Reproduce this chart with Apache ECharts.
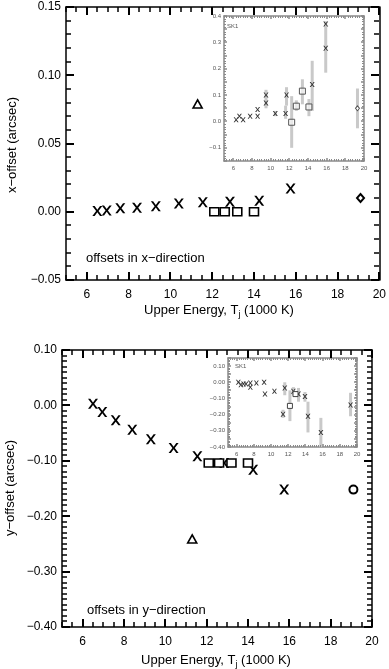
<!DOCTYPE html>
<html>
<head>
<meta charset="utf-8">
<script src="https://cdn.jsdelivr.net/npm/echarts@6/dist/echarts.min.js"></script>
<style>
  html, body { margin: 0; padding: 0; background: #fff; }
  #chart { width: 389px; height: 669px; }
</style>
</head>
<body>
<div id="chart"></div>
<script>
// upper energy T_j (1000 K) of the cross points, shared by both panels
var crossT = [6.5, 6.95, 7.6, 8.4, 9.3, 10.4, 11.55, 12.85, 14.25, 15.75];
var crossX = [0.0005, 0.001, 0.0025, 0.003, 0.004, 0.006, 0.007, 0.0074, 0.008, 0.017];
var crossY = [0.003, -0.012, -0.027, -0.044, -0.061, -0.077, -0.092, -0.104, -0.116, -0.152];
// open squares
var boxT = [12.1, 12.6, 13.2, 14.0];
var boxX = [0.0, 0.0, 0.0, 0.0];
var boxY = [-0.104, -0.104, -0.104, -0.104];
// triangle and diamond
var triT = [11.3], triX = [0.079], triY = [-0.241];
var diaT = [19.1], diaX = [0.010], diaY = [-0.152];

// inset SK1, x-offsets
var skxCrossT = [6.3, 6.65, 7.05, 7.8, 8.6, 8.6, 9.5, 9.5, 10.5, 11.6, 11.7, 14.45, 15.9, 15.9];
var skxCrossV = [0.006, 0.02, 0.006, 0.02, 0.02, 0.045, 0.07, 0.10, 0.03, 0.03, 0.10, 0.14, 0.278, 0.37];
var skxBoxT = [12.25, 12.75, 13.4, 14.1];
var skxBoxV = [-0.003, 0.058, 0.115, 0.055];
var skxDiaT = [19.3], skxDiaV = [0.05];
var skxErrT  = [9.5, 10.5, 11.6, 11.7, 12.25, 12.75, 13.4, 14.1, 14.45, 15.9, 19.3];
var skxErrLo = [0.05, 0.02, 0.01, 0.06, -0.10, 0.04, 0.065, 0.02, 0.04, 0.185, -0.026];
var skxErrHi = [0.12, 0.04, 0.06, 0.13, 0.096, 0.08, 0.16, 0.085, 0.23, 0.38, 0.125];

// inset SK1, y-offsets
var skyCrossT = [6.2, 6.5, 6.8, 7.1, 7.6, 7.6, 8.3, 9.2, 9.3, 10.4, 11.4, 11.6, 12.6, 13.2, 13.95, 14.3, 15.8, 19.25];
var skyCrossV = [0.0, -0.015, -0.01, -0.01, -0.005, -0.03, -0.005, 0.0, -0.073, -0.056, -0.198, -0.035, -0.056, -0.073, -0.088, -0.21, -0.31, -0.14];
var skyBoxT = [12.2, 12.85], skyBoxV = [-0.146, -0.073];
var skyErrT  = [11.4, 11.6, 12.2, 12.6, 13.2, 13.95, 14.3, 15.8, 19.25];
var skyErrLo = [-0.22, -0.08, -0.24, -0.08, -0.12, -0.12, -0.31, -0.40, -0.21];
var skyErrHi = [-0.17, 0.0, -0.05, -0.03, -0.035, -0.06, -0.12, -0.22, -0.065];

// labelled (major) energy ticks
var xMajorTicks = [6, 8, 10, 12, 14, 16, 18, 20];

var FONT = 'Liberation Sans';
var CROSS = 'path://M0,0L2.3,0L5,3.7L7.7,0L10,0L6.2,5L10,10L7.7,10L5,6.3L2.3,10L0,10L3.8,5Z';

function isMult(v, step) {
  var q = v / step;
  return Math.abs(q - Math.round(q)) < 1e-6;
}
function steps(a, b, s) {
  var out = [];
  var n = Math.round((b - a) / s);
  for (var i = 0; i <= n; i++) out.push(Math.round((a + i * s) * 10000) / 10000);
  return out;
}
function fmt(d, step) {
  return function (v) {
    if (step && !isMult(v, step)) return '';
    var s = Math.abs(v).toFixed(d);
    return v < -1e-9 ? '\u2212' + s : s;
  };
}
function pairs(a, b) { return a.map(function (t, i) { return [t, b[i]]; }); }

var grids = [], xAxes = [], yAxes = [], series = [], frames = [];

// four-sided frame; the inward ticks are added after layout
function frame(g, st) {
  var gi = grids.length;
  grids.push({ left: g.left, top: g.top, width: g.width, height: g.height });
  var xi = xAxes.length, yi = yAxes.length;
  ['bottom', 'top'].forEach(function (pos) {
    xAxes.push({
      gridIndex: gi, type: 'value', position: pos, min: g.xmin, max: g.xmax, interval: 1,
      splitLine: { show: false },
      axisLine: { show: true, onZero: false, lineStyle: { color: st.line, width: st.lw } },
      axisTick: { show: false },
      axisLabel: pos === 'bottom'
        ? { show: true, margin: st.xMargin, fontSize: st.fs, color: st.fc, fontFamily: FONT,
            formatter: function (v) { return isMult(v, 2) ? String(v) : ''; } }
        : { show: false }
    });
  });
  ['left', 'right'].forEach(function (pos) {
    yAxes.push({
      gridIndex: gi, type: 'value', position: pos, min: g.ymin, max: g.ymax, interval: g.yInt,
      splitLine: { show: false },
      axisLine: { show: true, onZero: false, lineStyle: { color: st.line, width: st.lw } },
      axisTick: { show: false },
      axisLabel: pos === 'left'
        ? { show: true, margin: st.yMargin, fontSize: st.fs, color: st.fc, fontFamily: FONT, formatter: fmt(g.yDec, g.yLabStep) }
        : { show: false }
    });
  });
  var ax = { x: xi, y: yi };
  frames.push({ g: g, st: st, ax: ax });
  return ax;
}

var mainStyle = { line: '#000', lw: 1.5, tw: 2, mw: 1.5, major: 8, minor: 5, fs: 12, fc: '#000', xMargin: 9, yMargin: 5 };
var insetStyle = { line: '#8a8a8a', lw: 1.5, tw: 1.5, mw: 1, major: 3, minor: 2, fs: 6, fc: '#555', xMargin: 4, yMargin: 3 };

var topAx = frame({
  left: 66, top: 7, width: 314, height: 273, xmin: 5, xmax: 20, xMinorStep: 0.5,
  ymin: -0.05, ymax: 0.15, yInt: 0.05, yMinorStep: 0.01, yDec: 2
}, mainStyle);
var topIn = frame({
  left: 224, top: 16, width: 140, height: 145, xmin: 5, xmax: 20, xMinorStep: 0.25,
  ymin: -0.15, ymax: 0.4, yInt: 0.05, yMinorStep: 0.01, yDec: 1, yLabStep: 0.1
}, insetStyle);
var botAx = frame({
  left: 62, top: 350, width: 310, height: 277, xmin: 5, xmax: 20, xMinorStep: 0.5,
  ymin: -0.4, ymax: 0.1, yInt: 0.1, yMinorStep: 0.01, yDec: 2
}, mainStyle);
var botIn = frame({
  left: 228, top: 358, width: 129, height: 89, xmin: 5, xmax: 20, xMinorStep: 0.25,
  ymin: -0.4, ymax: 0.15, yInt: 0.05, yMinorStep: 0.01, yDec: 2, yLabStep: 0.1
}, insetStyle);

function scatter(ax, data, symbol, size, color, fill, bw) {
  series.push({
    type: 'scatter', xAxisIndex: ax.x, yAxisIndex: ax.y, data: data,
    symbol: symbol, symbolSize: size, z: 5, silent: true,
    itemStyle: { color: fill, borderColor: color, borderWidth: bw, opacity: 1 }
  });
}
function errBars(ax, t, lo, hi) {
  series.push({
    type: 'custom', xAxisIndex: ax.x, yAxisIndex: ax.y, z: 3, silent: true,
    data: t.map(function (v, i) { return [v, lo[i], hi[i]]; }),
    renderItem: function (params, api) {
      var p1 = api.coord([api.value(0), api.value(1)]);
      var p2 = api.coord([api.value(0), api.value(2)]);
      return { type: 'line', shape: { x1: p1[0], y1: p1[1], x2: p2[0], y2: p2[1] },
               style: { stroke: '#c9c9c9', lineWidth: 3 } };
    }
  });
}

// top panel
scatter(topAx, pairs(crossT, crossX), CROSS, [10, 10], '#000', '#000', 0);
scatter(topAx, pairs(boxT, boxX), 'rect', [9, 8], '#000', '#fff', 1.5);
scatter(topAx, pairs(triT, triX), 'triangle', [9, 8], '#000', '#fff', 1.6);
scatter(topAx, pairs(diaT, diaX), 'diamond', [7, 8], '#000', '#fff', 2);
errBars(topIn, skxErrT, skxErrLo, skxErrHi);
scatter(topIn, pairs(skxCrossT, skxCrossV), CROSS, [5, 5], '#333', '#333', 0);
scatter(topIn, pairs(skxBoxT, skxBoxV), 'rect', [6, 6], '#555', 'rgba(255,255,255,0.6)', 1);
scatter(topIn, pairs(skxDiaT, skxDiaV), 'diamond', [4, 5], '#555', '#fff', 1);

// bottom panel
scatter(botAx, pairs(crossT, crossY), CROSS, [10, 10], '#000', '#000', 0);
scatter(botAx, pairs(boxT, boxY), 'rect', [9, 8], '#000', '#fff', 1.5);
scatter(botAx, pairs(triT, triY), 'triangle', [9, 8], '#000', '#fff', 1.6);
scatter(botAx, pairs(diaT, diaY), 'circle', [8, 8], '#000', '#fff', 2);
errBars(botIn, skyErrT, skyErrLo, skyErrHi);
scatter(botIn, pairs(skyCrossT, skyCrossV), CROSS, [5, 5], '#333', '#333', 0);
scatter(botIn, pairs(skyBoxT, skyBoxV), 'rect', [5, 5], '#444', '#fff', 1);

function label(x, y, text, size, opt) {
  return Object.assign({
    type: 'text', x: x, y: y, silent: true,
    style: Object.assign({ text: text, fontFamily: FONT, fontSize: size, fill: '#000',
                           textAlign: 'left', textVerticalAlign: 'middle' }, (opt && opt.style) || {})
  }, opt && opt.rotation ? { rotation: opt.rotation } : {});
}
var richTitle = {
  a: { fontFamily: FONT, fontSize: 13, lineHeight: 18, fill: '#000' },
  s: { fontFamily: FONT, fontSize: 9, lineHeight: 9, verticalAlign: 'bottom', fill: '#000' }
};
function xTitle(x, y) {
  return { type: 'text', x: x, y: y, silent: true,
    style: { text: '{a|Upper Energy, T}{s|j}{a| (1000 K)}', rich: richTitle,
             textAlign: 'center', textVerticalAlign: 'middle' } };
}
var texts = [
  label(12, 145, 'x\u2212offset (arcsec)', 13, { rotation: Math.PI / 2, style: { textAlign: 'center' } }),
  label(10, 488, 'y\u2212offset (arcsec)', 13, { rotation: Math.PI / 2, style: { textAlign: 'center' } }),
  xTitle(219, 310),
  xTitle(216, 660),
  label(86, 258, 'offsets in x\u2212direction', 13),
  label(87, 610, 'offsets in y\u2212direction', 13),
  label(227, 26, 'SK1', 6, { style: { fill: '#555' } }),
  label(235, 366, 'SK1', 6, { style: { fill: '#555' } })
];

var chart = echarts.init(document.getElementById('chart'));
chart.setOption({
  animation: false,
  grid: grids,
  xAxis: xAxes,
  yAxis: yAxes,
  series: series
});

// inward ticks on all four sides, placed through each grid's own scales
function snap(v, w) {
  return Math.round(v) + (Math.round(w) % 2 === 1 ? 0.5 : 0);
}
var tickLines = [];
frames.forEach(function (f) {
  var g = f.g, st = f.st;
  var finder = { xAxisIndex: f.ax.x, yAxisIndex: f.ax.y };
  function add(p, dx, dy, major) {
    if (!p || isNaN(p[0]) || isNaN(p[1])) return;
    var w = major ? st.tw : st.mw;
    var x = dx === 0 ? snap(p[0], w) : Math.round(p[0]);
    var y = dy === 0 ? snap(p[1], w) : Math.round(p[1]);
    tickLines.push({ type: 'line', silent: true, z: 50,
      shape: { x1: x, y1: y, x2: x + dx, y2: y + dy },
      style: { stroke: st.line, lineWidth: w } });
  }
  steps(g.xmin, g.xmax, g.xMinorStep).forEach(function (t) {
    var major = xMajorTicks.indexOf(t) >= 0;
    var len = major ? st.major : st.minor;
    add(chart.convertToPixel(finder, [t, g.ymin]), 0, -len, major);
    add(chart.convertToPixel(finder, [t, g.ymax]), 0, len, major);
  });
  steps(g.ymin, g.ymax, g.yMinorStep).forEach(function (v) {
    var major = isMult(v, g.yInt);
    var len = major ? st.major : st.minor;
    add(chart.convertToPixel(finder, [g.xmin, v]), len, 0, major);
    add(chart.convertToPixel(finder, [g.xmax, v]), -len, 0, major);
  });
});
chart.setOption({ graphic: texts.concat(tickLines) });
</script>
</body>
</html>
